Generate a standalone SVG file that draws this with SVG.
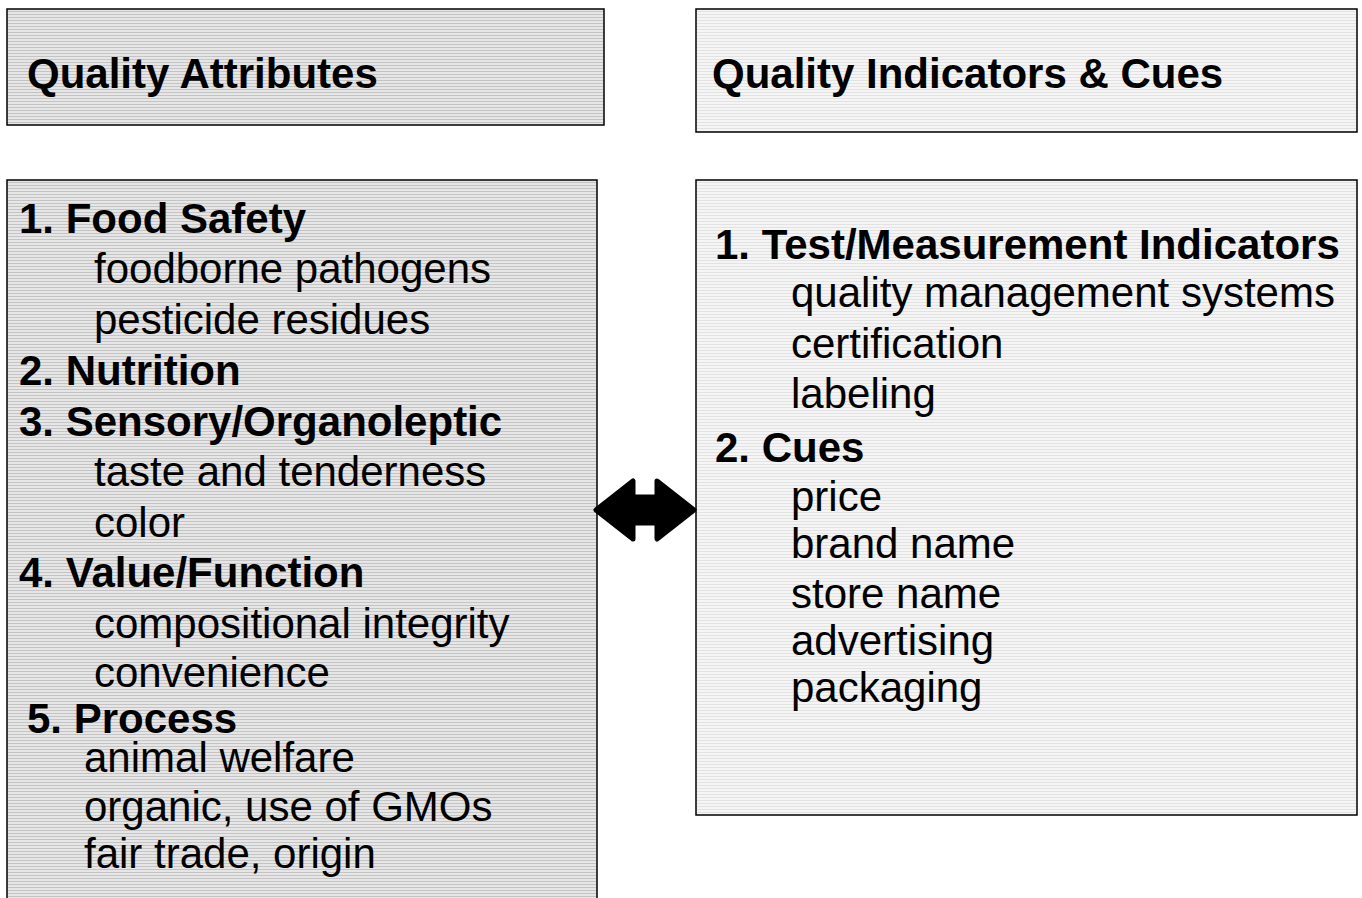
<svg xmlns="http://www.w3.org/2000/svg" width="1362" height="898" viewBox="0 0 1362 898">
  <defs>
    <!-- horizontal ruled fill for the attribute boxes -->
    <pattern id="ruleDark" width="8" height="3" patternUnits="userSpaceOnUse">
      <rect width="8" height="3" fill="#e6e6e6"/>
      <rect y="2" width="8" height="1" fill="#c4c4c4"/>
    </pattern>
    <!-- lighter ruled fill for the indicator boxes -->
    <pattern id="ruleLight" width="8" height="3" patternUnits="userSpaceOnUse">
      <rect width="8" height="3" fill="#f5f5f5"/>
      <rect y="2" width="8" height="1" fill="#e2e2e2"/>
    </pattern>
  </defs>
  <style>
    .box { stroke: #000; stroke-width: 1.5; }
    .dark { fill: url(#ruleDark); }
    .light { fill: url(#ruleLight); }
    text { font-family: "Liberation Sans", Arial, sans-serif; font-size: 42px; fill: #000; }
    .h { font-weight: bold; }
  </style>

  <g id="attributes-title">
    <rect class="box dark" x="7" y="9" width="597" height="116"/>
    <text class="h" x="27" y="88">Quality Attributes</text>
  </g>

  <g id="indicators-title">
    <rect class="box light" x="696" y="9" width="661" height="123"/>
    <text class="h" x="712" y="88">Quality Indicators &amp; Cues</text>
  </g>

  <g id="attributes-list">
    <rect class="box dark" x="7" y="180" width="590" height="730"/>
    <text class="h" x="19" y="233">1. Food Safety</text>
    <text x="94" y="283">foodborne pathogens</text>
    <text x="94" y="334">pesticide residues</text>
    <text class="h" x="19" y="385">2. Nutrition</text>
    <text class="h" x="19" y="436">3. Sensory/Organoleptic</text>
    <text x="94" y="486">taste and tenderness</text>
    <text x="94" y="537">color</text>
    <text class="h" x="19" y="587">4.  Value/Function</text>
    <text x="94" y="638">compositional integrity</text>
    <text x="94" y="687">convenience</text>
    <text class="h" x="27" y="733">5. Process</text>
    <text x="84" y="772">animal welfare</text>
    <text x="84" y="821">organic, use of GMOs</text>
    <text x="84" y="868">fair trade, origin</text>
  </g>

  <g id="indicators-list">
    <rect class="box light" x="696" y="180" width="661" height="635"/>
    <text class="h" x="715" y="259">1. Test/Measurement Indicators</text>
    <text x="791" y="307">quality management systems</text>
    <text x="791" y="358">certification</text>
    <text x="791" y="408">labeling</text>
    <text class="h" x="715" y="462">2. Cues</text>
    <text x="791" y="511">price</text>
    <text x="791" y="558">brand name</text>
    <text x="791" y="608">store name</text>
    <text x="791" y="655">advertising</text>
    <text x="791" y="702">packaging</text>
  </g>

  <g id="connectors">
    <!-- two-headed block arrow linking the two lists -->
    <path d="M596,510 L633,481 L633,497 L657,497 L657,481 L694,510 L657,539 L657,523 L633,523 L633,539 Z"
          fill="#000" stroke="#000" stroke-width="5" stroke-linejoin="round"/>
  </g>
</svg>
